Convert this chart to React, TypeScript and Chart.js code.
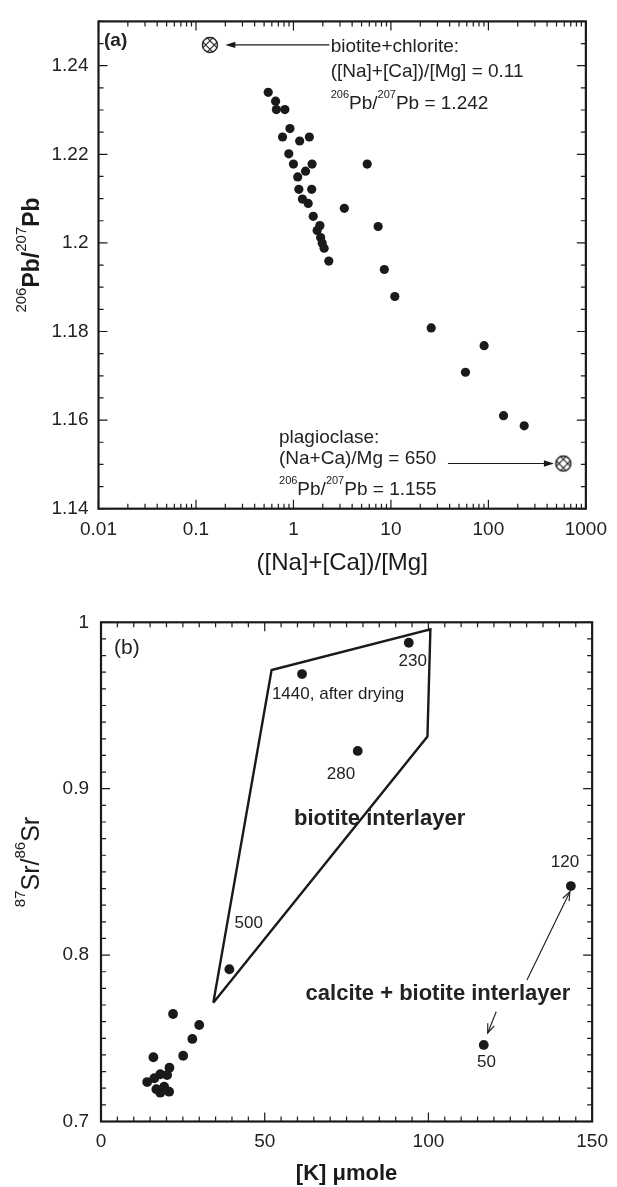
import React, { useEffect, useRef } from "react";
import { Chart, registerables } from "chart.js";

Chart.register(...registerables);

const FAMILY = '"Liberation Sans", Arial, Helvetica, sans-serif';
const INK = "#1a1a1a";

// ---------------- Panel (a) data ----------------
const ratioA = [0.551, 0.656, 0.668, 0.817, 0.921, 0.773, 1.158, 1.456, 0.896, 1.0, 1.553, 1.33, 1.106, 1.137, 1.539, 1.236, 1.417, 1.596, 1.866, 1.749, 1.901, 1.972, 2.065, 2.305, 3.326, 5.71, 7.39, 8.56, 10.96, 25.9, 90.4, 58.2, 143, 233];
const pbA = [1.234, 1.232, 1.2301, 1.2301, 1.2258, 1.2239, 1.223, 1.2239, 1.2201, 1.2178, 1.2178, 1.2162, 1.2149, 1.2121, 1.2121, 1.2099, 1.2089, 1.206, 1.2039, 1.2028, 1.2012, 1.2, 1.1988, 1.1959, 1.2078, 1.2178, 1.2037, 1.194, 1.1879, 1.1808, 1.1768, 1.1708, 1.161, 1.1587];
const memberRatioA = [0.139, 587];
const memberPbA = [1.2447, 1.1502];
const xTicksA = [0.01, 0.1, 1, 10, 100, 1000];
const yTicksA = [1.14, 1.16, 1.18, 1.2, 1.22, 1.24];

// ---------------- Panel (b) data ----------------
const kB = [94.0, 61.4, 78.4, 143.5, 39.2, 22.0, 30.0, 27.9, 25.1, 16.0, 20.9, 20.2, 18.1, 16.3, 14.1, 16.9, 18.1, 20.8, 19.3, 116.9];
const srB = [0.9877, 0.9689, 0.9227, 0.8415, 0.7915, 0.7646, 0.758, 0.7496, 0.7395, 0.7386, 0.7323, 0.7279, 0.7284, 0.726, 0.7237, 0.7194, 0.7173, 0.7179, 0.7209, 0.746];
const fieldK = [34.3, 52.1, 100.6, 99.7, 34.3];
const fieldSr = [0.7714, 0.9713, 0.9958, 0.9313, 0.7714];
const xTicksB = [0, 50, 100, 150];
const yTicksB = [0.7, 0.8, 0.9, 1];

// ---------------- helpers ----------------
type Run = { t: string; sup?: boolean };
type TextItem = { runs: Run[]; x: number; y: number; size: number; bold?: boolean; align?: "left" | "center" };
type Arrow = { x1: number; y1: number; x2: number; y2: number; filled: boolean };

const fnt = (size: number, bold?: boolean) => `${bold ? "bold " : ""}${size}px ${FAMILY}`;

function drawRuns(ctx: CanvasRenderingContext2D, runs: Run[], x: number, y: number, size: number, bold: boolean, align: string, supSize: number, rise: number) {
  let total = 0;
  const widths = runs.map((r) => {
    ctx.font = r.sup ? fnt(supSize) : fnt(size, bold);
    const w = ctx.measureText(r.t).width;
    total += w;
    return w;
  });
  let cx = align === "center" ? x - total / 2 : x;
  ctx.textAlign = "left";
  ctx.textBaseline = "alphabetic";
  runs.forEach((r, i) => {
    ctx.font = r.sup ? fnt(supSize) : fnt(size, bold);
    ctx.fillText(r.t, cx, r.sup ? y - rise : y);
    cx += widths[i];
  });
}

function drawArrow(ctx: CanvasRenderingContext2D, a: { x1: number; y1: number; x2: number; y2: number }, filled: boolean) {
  const ang = Math.atan2(a.y2 - a.y1, a.x2 - a.x1);
  const len = filled ? 10 : 9;
  const w = filled ? 3.2 : 3.5;
  ctx.beginPath();
  ctx.moveTo(a.x1, a.y1);
  ctx.lineTo(filled ? a.x2 - Math.cos(ang) * len * 0.8 : a.x2, filled ? a.y2 - Math.sin(ang) * len * 0.8 : a.y2);
  ctx.stroke();
  const bx = a.x2 - Math.cos(ang) * len;
  const by = a.y2 - Math.sin(ang) * len;
  const px = -Math.sin(ang) * w;
  const py = Math.cos(ang) * w;
  ctx.beginPath();
  ctx.moveTo(bx + px, by + py);
  ctx.lineTo(a.x2, a.y2);
  ctx.lineTo(bx - px, by - py);
  if (filled) {
    ctx.closePath();
    ctx.fill();
  } else {
    ctx.stroke();
  }
}

function crossedCircle(r: number): HTMLCanvasElement {
  const c = document.createElement("canvas");
  const s = Math.ceil(r * 2 + 4);
  c.width = s;
  c.height = s;
  const g = c.getContext("2d")!;
  const m = s / 2;
  g.fillStyle = "#fff";
  g.beginPath();
  g.arc(m, m, r, 0, Math.PI * 2);
  g.fill();
  g.save();
  g.clip();
  g.translate(m, m);
  g.rotate(Math.PI / 4);
  g.strokeStyle = INK;
  g.lineWidth = 1;
  const d = r * 0.38;
  g.beginPath();
  for (const o of [-d, d]) {
    g.moveTo(o, -r - 2);
    g.lineTo(o, r + 2);
    g.moveTo(-r - 2, o);
    g.lineTo(r + 2, o);
  }
  g.stroke();
  g.restore();
  g.strokeStyle = INK;
  g.lineWidth = 1.4;
  g.beginPath();
  g.arc(m, m, r - 0.5, 0, Math.PI * 2);
  g.stroke();
  return c;
}

type Mark = { v: number; major: boolean };
function linearMarks(min: number, steps: number, step: number, majorEvery: number): Mark[] {
  const out: Mark[] = [];
  for (let i = 0; i <= steps; i++) out.push({ v: +(min + i * step).toFixed(6), major: i % majorEvery === 0 });
  return out;
}
function logMarks(minExp: number, maxExp: number): Mark[] {
  const out: Mark[] = [];
  for (let e = minExp; e < maxExp; e++) for (let m = 1; m <= 9; m++) out.push({ v: m * Math.pow(10, e), major: m === 1 });
  out.push({ v: Math.pow(10, maxExp), major: true });
  return out;
}

function decorPlugin(id: string, cfg: {
  xMarks: Mark[]; yMarks: Mark[];
  texts: TextItem[]; arrows: Arrow[];
  panel: { t: string; dx: number; dy: number; size: number; bold: boolean };
  yTitle: { runs: Run[]; x: number; y: number; size: number; bold: boolean; supSize: number; rise: number };
  polyWidth?: number;
}) {
  return {
    id,
    afterDraw(chart: any) {
      const { ctx, chartArea } = chart;
      const { left, right, top, bottom } = chartArea;
      const xs = chart.scales.x;
      const ys = chart.scales.y;
      ctx.save();
      ctx.strokeStyle = INK;
      ctx.fillStyle = INK;
      // inward ticks on all four sides
      ctx.lineWidth = 1.2;
      ctx.beginPath();
      cfg.xMarks.forEach((m) => {
        const p = xs.getPixelForValue(m.v);
        const len = m.major ? 9 : 5;
        ctx.moveTo(p, bottom);
        ctx.lineTo(p, bottom - len);
        ctx.moveTo(p, top);
        ctx.lineTo(p, top + len);
      });
      cfg.yMarks.forEach((m) => {
        const p = ys.getPixelForValue(m.v);
        const len = m.major ? 9 : 5;
        ctx.moveTo(left, p);
        ctx.lineTo(left + len, p);
        ctx.moveTo(right, p);
        ctx.lineTo(right - len, p);
      });
      ctx.stroke();
      // frame
      ctx.lineWidth = 2.2;
      ctx.strokeRect(left, top, right - left, bottom - top);
      // arrows
      ctx.lineWidth = 1.1;
      cfg.arrows.forEach((a) => {
        drawArrow(ctx, {
          x1: xs.getPixelForValue(a.x1), y1: ys.getPixelForValue(a.y1),
          x2: xs.getPixelForValue(a.x2), y2: ys.getPixelForValue(a.y2),
        }, a.filled);
      });
      // texts
      ctx.fillStyle = "#222";
      cfg.texts.forEach((t) => {
        const px = xs.getPixelForValue(t.x);
        const py = ys.getPixelForValue(t.y) + t.size * 0.36;
        drawRuns(ctx, t.runs, px, py, t.size, !!t.bold, t.align || "left", Math.round(t.size * 0.6), t.size * 0.58);
      });
      // panel label
      drawRuns(ctx, [{ t: cfg.panel.t }], left + cfg.panel.dx, top + cfg.panel.dy + cfg.panel.size * 0.36, cfg.panel.size, cfg.panel.bold, "left", 10, 0);
      // rotated y title
      ctx.translate(cfg.yTitle.x, cfg.yTitle.y);
      ctx.rotate(-Math.PI / 2);
      ctx.fillStyle = INK;
      drawRuns(ctx, cfg.yTitle.runs, 0, 0, cfg.yTitle.size, cfg.yTitle.bold, "center", cfg.yTitle.supSize, cfg.yTitle.rise);
      ctx.restore();
    },
  };
}

const tickFont = { family: FAMILY, size: 19 };

function configA(): any {
  return {
    type: "scatter",
    data: {
      datasets: [
        {
          data: ratioA.map((x, i) => ({ x, y: pbA[i] })),
          pointRadius: 4.6,
          pointBackgroundColor: INK,
          pointBorderWidth: 0,
        },
        {
          data: memberRatioA.map((x, i) => ({ x, y: memberPbA[i] })),
          pointStyle: crossedCircle(8),
          pointRadius: 8,
        },
      ],
    },
    options: {
      animation: false,
      responsive: false,
      events: [],
      layout: { padding: { top: 14, right: 25.5, left: 0, bottom: 0 } },
      plugins: { legend: { display: false }, tooltip: { enabled: false } },
      scales: {
        x: {
          type: "logarithmic",
          min: 0.01,
          max: 1000,
          grid: { display: false, drawTicks: false },
          border: { display: false },
          afterBuildTicks: (s: any) => { s.ticks = xTicksA.map((v) => ({ value: v })); },
          afterFit: (s: any) => { s.height = 81.3; },
          ticks: {
            font: tickFont, color: "#222", padding: 10, maxRotation: 0, autoSkip: false,
            callback: (v: any) => String(+Number(v).toPrecision(3)),
          },
          title: { display: true, text: "([Na]+[Ca])/[Mg]", font: { family: FAMILY, size: 24 }, color: INK, padding: { top: 0, bottom: 12 } },
        },
        y: {
          type: "linear",
          min: 1.14,
          max: 1.25,
          grid: { display: false, drawTicks: false },
          border: { display: false },
          afterBuildTicks: (s: any) => { s.ticks = yTicksA.map((v) => ({ value: v })); },
          afterFit: (s: any) => { s.width = 98.5; },
          ticks: { font: tickFont, color: "#222", padding: 10, callback: (v: any) => String(+Number(v).toFixed(3)) },
        },
      },
    },
    plugins: [
      decorPlugin("decorA", {
        xMarks: logMarks(-2, 3),
        yMarks: linearMarks(1.14, 22, 0.005, 4),
        arrows: [
          { x1: 2.34, y1: 1.2447, x2: 0.2, y2: 1.2447, filled: true },
          { x1: 38.5, y1: 1.1502, x2: 470, y2: 1.1502, filled: true },
        ],
        texts: [
          { runs: [{ t: "biotite+chlorite:" }], x: 2.41, y: 1.2447, size: 19 },
          { runs: [{ t: "([Na]+[Ca])/[Mg] = 0.11" }], x: 2.41, y: 1.239, size: 19 },
          { runs: [{ t: "206", sup: true }, { t: "Pb/" }, { t: "207", sup: true }, { t: "Pb = 1.242" }], x: 2.41, y: 1.2317, size: 19 },
          { runs: [{ t: "plagioclase:" }], x: 0.711, y: 1.1564, size: 19 },
          { runs: [{ t: "(Na+Ca)/Mg = 650" }], x: 0.711, y: 1.1516, size: 19 },
          { runs: [{ t: "206", sup: true }, { t: "Pb/" }, { t: "207", sup: true }, { t: "Pb = 1.155" }], x: 0.711, y: 1.1447, size: 19 },
        ],
        panel: { t: "(a)", dx: 5.5, dy: 18, size: 19, bold: true },
        yTitle: {
          runs: [{ t: "206", sup: true }, { t: "Pb/" }, { t: "207", sup: true }, { t: "Pb" }],
          x: 38.5, y: 255, size: 23, bold: true, supSize: 15, rise: 13,
        },
      }),
    ],
  };
}

function configB(): any {
  return {
    type: "scatter",
    data: {
      datasets: [
        {
          data: fieldK.map((x, i) => ({ x, y: fieldSr[i] })),
          showLine: true,
          pointRadius: 0,
          borderColor: INK,
          borderWidth: 2.4,
          fill: false,
          tension: 0,
        },
        {
          data: kB.map((x, i) => ({ x, y: srB[i] })),
          pointRadius: 4.9,
          pointBackgroundColor: INK,
          pointBorderWidth: 0,
        },
      ],
    },
    options: {
      animation: false,
      responsive: false,
      events: [],
      layout: { padding: { top: 32.3, right: 18, left: 0, bottom: 0 } },
      plugins: { legend: { display: false }, tooltip: { enabled: false } },
      scales: {
        x: {
          type: "linear",
          min: 0,
          max: 150,
          grid: { display: false, drawTicks: false },
          border: { display: false },
          afterBuildTicks: (s: any) => { s.ticks = xTicksB.map((v) => ({ value: v })); },
          afterFit: (s: any) => { s.height = 65.5; },
          ticks: { font: tickFont, color: "#222", padding: 9, maxRotation: 0, autoSkip: false },
          title: { display: true, text: "[K] \u03bcmole", font: { family: FAMILY, size: 22, weight: "bold" }, color: INK, padding: { top: 0, bottom: 0 } },
        },
        y: {
          type: "linear",
          min: 0.7,
          max: 1,
          grid: { display: false, drawTicks: false },
          border: { display: false },
          afterBuildTicks: (s: any) => { s.ticks = yTicksB.map((v) => ({ value: v })); },
          afterFit: (s: any) => { s.width = 101; },
          ticks: { font: tickFont, color: "#222", padding: 12, callback: (v: any) => String(+Number(v).toFixed(2)) },
        },
      },
    },
    plugins: [
      decorPlugin("decorB", {
        xMarks: linearMarks(0, 30, 5, 10),
        yMarks: linearMarks(0.7, 30, 0.01, 10),
        arrows: [
          { x1: 130.1, y1: 0.785, x2: 143.2, y2: 0.8381, filled: false },
          { x1: 120.7, y1: 0.766, x2: 118.1, y2: 0.7532, filled: false },
        ],
        texts: [
          { runs: [{ t: "230" }], x: 95.2, y: 0.9773, size: 17, align: "center" },
          { runs: [{ t: "1440, after drying" }], x: 52.2, y: 0.9577, size: 17 },
          { runs: [{ t: "280" }], x: 73.3, y: 0.9093, size: 17, align: "center" },
          { runs: [{ t: "biotite interlayer" }], x: 85.1, y: 0.8828, size: 22, bold: true, align: "center" },
          { runs: [{ t: "120" }], x: 141.7, y: 0.8566, size: 17, align: "center" },
          { runs: [{ t: "500" }], x: 45.1, y: 0.8201, size: 17, align: "center" },
          { runs: [{ t: "calcite + biotite interlayer" }], x: 102.9, y: 0.7776, size: 22, bold: true, align: "center" },
          { runs: [{ t: "50" }], x: 117.7, y: 0.7364, size: 17, align: "center" },
        ],
        panel: { t: "(b)", dx: 13, dy: 24.4, size: 21, bold: false },
        yTitle: {
          runs: [{ t: "87", sup: true }, { t: "Sr/" }, { t: "86", sup: true }, { t: "Sr" }],
          x: 38.5, y: 272, size: 25, bold: false, supSize: 15, rise: 14,
        },
      }),
    ],
  };
}

export default function App() {
  const refA = useRef<HTMLCanvasElement>(null);
  const refB = useRef<HTMLCanvasElement>(null);
  useEffect(() => {
    const a = new Chart(refA.current!, configA());
    const b = new Chart(refB.current!, configB());
    return () => {
      a.destroy();
      b.destroy();
    };
  }, []);
  return (
    <div style={{ position: "absolute", left: 0, top: 0, width: 617, height: 1187, background: "#fff" }}>
      <canvas ref={refA} width={617} height={590} style={{ display: "block", width: 617, height: 590 }} />
      <canvas ref={refB} width={617} height={597} style={{ display: "block", width: 617, height: 597 }} />
    </div>
  );
}
